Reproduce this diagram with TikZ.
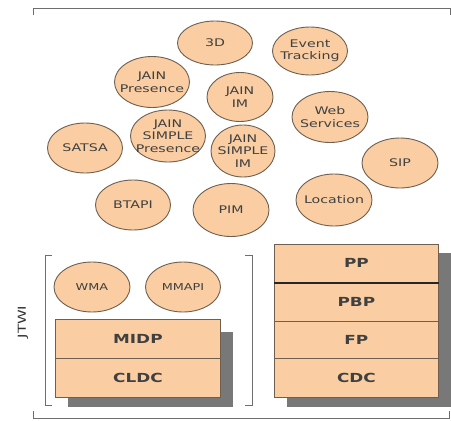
\documentclass[tikz,border=0pt]{standalone}
\usepackage{fontspec}
\setmainfont{DejaVu Sans}
\newfontfamily\widesans[FakeStretch=1.35]{DejaVu Sans}
\usetikzlibrary{shapes.geometric}
\definecolor{peach}{RGB}{250,206,162}
\definecolor{edge}{RGB}{110,95,80}
\definecolor{shade}{RGB}{120,120,120}
\definecolor{brk}{RGB}{110,110,110}
\tikzset{
  api/.style={ellipse, draw=edge, line width=0.9pt, fill=peach, inner sep=0pt,
    minimum width=#1, minimum height=50pt},
  api/.default=75pt,
  apitext/.style={align=center, inner sep=0pt,
    font=\widesans\fontsize{10.5}{12.5}\selectfont, text=black!75},
  layer/.style={rectangle, draw=edge, line width=0.8pt, fill=peach, inner sep=0pt,
    minimum width=165pt, font=\widesans\bfseries\fontsize{12.5}{13}\selectfont, text=black!75},
  shadowbox/.style={fill=shade, draw=none},
  bracketline/.style={draw=brk, line width=0.9pt}
}
\begin{document}
\begin{tikzpicture}[x=1pt,y=-1pt]
\useasboundingbox (0,0) rectangle (451,421);
\fill[white] (0,0) rectangle (451,421);
% outer bracket
\draw[bracketline] (33,15) -- (33,8) -- (450,8) -- (450,15);
\draw[bracketline] (33,411) -- (33,418) -- (449,418) -- (449,411);
% ellipses
\node[api, minimum height=44pt, label={[apitext]center:3D}] (threed) at (215,43) {};
\node[api, minimum height=48pt, label={[apitext]center:Event\\Tracking}] (event) at (310,51) {};
\node[api, minimum height=51pt, label={[apitext]center:JAIN\\Presence}] (jpres) at (152,82) {};
\node[api=66pt, minimum height=49pt, label={[apitext]center:JAIN\\IM}] (jim) at (240,97) {};
\node[api=76pt, minimum height=51pt, label={[apitext]center:Web\\Services}] (web) at (330,117) {};
\node[api, minimum height=52pt, label={[apitext]center:JAIN\\SIMPLE\\Presence}] (jspres) at (168,136) {};
\node[api, label={[apitext]center:SATSA}] (satsa) at (85,148) {};
\node[api=64pt, minimum height=52pt, label={[apitext]center:JAIN\\SIMPLE\\IM}] (jsim) at (243,151) {};
\node[api=76pt, label={[apitext]center:SIP}] (sip) at (400,163) {};
\node[api, label={[apitext]center:BTAPI}] (btapi) at (133,205) {};
\node[api=76pt, minimum height=53pt, label={[apitext]center:PIM}] (pim) at (231,210) {};
\node[api=76pt, minimum height=52pt, label={[apitext]center:Location}] (loc) at (334,200) {};
% JTWI group
\draw[bracketline] (52,255) -- (45,255) -- (45,405) -- (52,405);
\draw[bracketline] (245,255) -- (252,255) -- (252,405) -- (245,405);
\node[rotate=90, font=\widesans\fontsize{11}{11}\selectfont, text=black!80] (jtwi) at (23,322) {JTWI};
\node[api=76pt, minimum height=50pt, label={[apitext, font=\widesans\fontsize{9.5}{10}\selectfont]center:WMA}] (wma) at (92,287) {};
\node[api=75pt, minimum height=50pt, label={[apitext, font=\widesans\fontsize{9.5}{10}\selectfont]center:MMAPI}] (mmapi) at (183,287) {};
\fill[shadowbox] (68,332) rectangle (233,407);
\node[layer, minimum height=39pt, anchor=north west] (midp) at (55,319) {MIDP};
\node[layer, minimum height=39pt, anchor=north west] (cldc) at (55,358) {CLDC};
% right stack
\fill[shadowbox] (287,253) rectangle (451,407);
\node[layer, minimum width=164pt, minimum height=38pt, anchor=north west] (pp) at (274,244) {PP};
\node[layer, minimum width=164pt, minimum height=39pt, anchor=north west] (pbp) at (274,282) {PBP};
\node[layer, minimum width=164pt, minimum height=37pt, anchor=north west] (fp) at (274,321) {FP};
\node[layer, minimum width=164pt, minimum height=39pt, anchor=north west] (cdc) at (274,358) {CDC};
\draw[black!85, line width=1.4pt] (pp.south west) -- (pp.south east);
\end{tikzpicture}
\end{document}
